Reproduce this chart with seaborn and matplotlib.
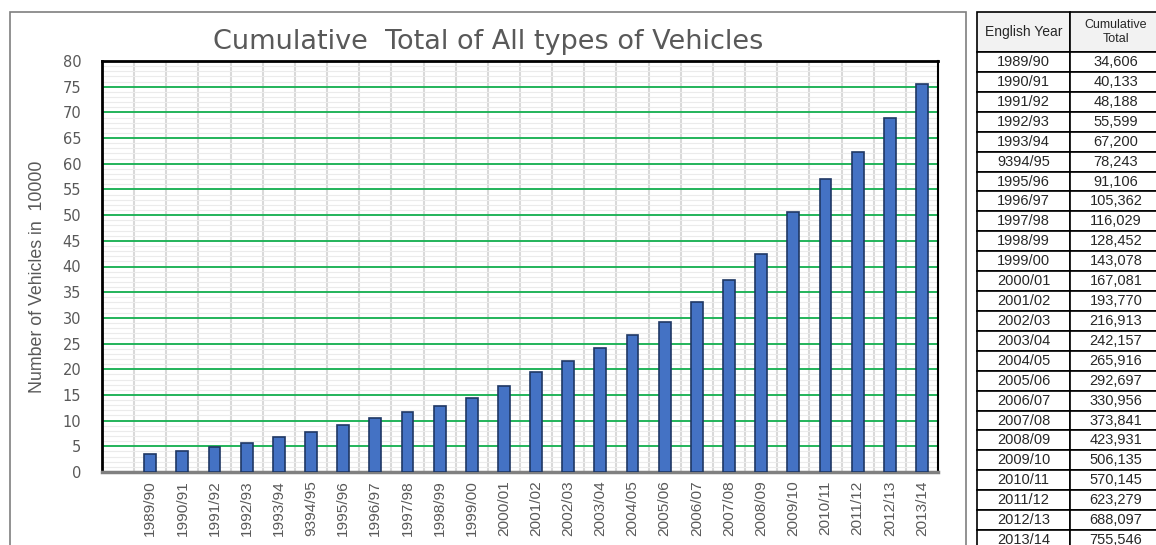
import matplotlib
matplotlib.use('Agg')
import matplotlib.pyplot as plt
from matplotlib import font_manager
import seaborn as sns
import numpy as np
import pandas as pd
from matplotlib.patches import Rectangle

years = ['1989/90', '1990/91', '1991/92', '1992/93', '1993/94', '9394/95', '1995/96',
         '1996/97', '1997/98', '1998/99', '1999/00', '2000/01', '2001/02', '2002/03',
         '2003/04', '2004/05', '2005/06', '2006/07', '2007/08', '2008/09', '2009/10',
         '2010/11', '2011/12', '2012/13', '2013/14']
totals = [34606, 40133, 48188, 55599, 67200, 78243, 91106, 105362, 116029, 128452,
          143078, 167081, 193770, 216913, 242157, 265916, 292697, 330956, 373841,
          423931, 506135, 570145, 623279, 688097, 755546]
title = "Cumulative  Total of All types of Vehicles"
ylabel = "Number of Vehicles in  10000"
table_headers = ["English Year", "Cumulative\nTotal"]
y_ticks = list(range(0, 81, 5))

sns.set_style('white')
plt.rcParams['font.family'] = ['Liberation Sans', 'DejaVu Sans']

installed = {f.name for f in font_manager.fontManager.ttflist}
narrow = 'Liberation Sans Narrow' if 'Liberation Sans Narrow' in installed else 'Liberation Sans'
narrow_scale = 1.0 if narrow == 'Liberation Sans Narrow' else 0.85

W, H = 1156, 545
fig = plt.figure(figsize=(W / 100, H / 100), dpi=100)


def fx(px):
    return px / W


def fy(py):
    return 1 - py / H


ax = fig.add_axes([fx(102), fy(472), fx(938) - fx(102), fy(61) - fy(472)])
df = pd.DataFrame({'year': years, 'value': np.array(totals) / 10000})
sns.barplot(data=df, x='year', y='value', order=years, color='#4472C4', width=0.37,
            edgecolor='#1F3864', linewidth=1.2, saturation=1, ax=ax, zorder=3)

ax.set_axisbelow(True)
ax.set_ylim(0, 80)
ax.set_xlim(-1.5, 24.5)
ax.set_yticks(y_ticks)
ax.set_yticks(np.arange(0, 81, 1), minor=True)
ax.set_xticks(np.arange(-0.5, 24.5, 1), minor=True)
ax.grid(which='minor', axis='y', color='#EBEBEB', lw=0.8)
ax.grid(which='major', axis='y', color='#22B35A', lw=1.4)
ax.grid(which='minor', axis='x', color='#D9D9D9', lw=1.5)
ax.grid(which='major', axis='x', visible=False)
ax.tick_params(which='both', length=0)
ax.tick_params(axis='y', labelsize=10.5, labelcolor='#595959', pad=15)
ax.tick_params(axis='x', labelcolor='#595959', pad=6)
ax.set_xticks(range(len(years)))
ax.set_xticklabels(years, rotation=90, va='top', ha='center',
                   fontsize=13 * narrow_scale, family=narrow)
for lab in ax.get_yticklabels():
    lab.set_family('DejaVu Sans')
ax.set_xlabel('')
ax.set_ylabel('')

for s in ['left', 'top']:
    ax.spines[s].set_color('black')
    ax.spines[s].set_linewidth(2)
ax.spines['right'].set_color('black')
ax.spines['right'].set_linewidth(1.5)
ax.spines['bottom'].set_color('#808080')
ax.spines['bottom'].set_linewidth(2.5)

fig.text(fx(488), fy(42), title, ha='center', va='center', fontsize=19.5,
         color='#595959', family='DejaVu Sans')
fig.text(fx(38), fy(277), ylabel, ha='center', va='center', rotation=90,
         fontsize=15 * narrow_scale, color='#595959', family=narrow)

fig.add_artist(Rectangle((fx(10), fy(560)), fx(966) - fx(10), fy(12) - fy(560),
                         fill=False, edgecolor='#7F7F7F', lw=1.2,
                         transform=fig.transFigure))

tax = fig.add_axes([fx(977), fy(550), fx(1162) - fx(977), fy(12) - fy(550)])
tax.axis('off')
cell_text = [[y, f"{v:,}"] for y, v in zip(years, totals)]
tbl = tax.table(cellText=cell_text, colLabels=table_headers, bbox=[0, 0, 1, 1],
                cellLoc='center', colWidths=[93, 92])
tbl.auto_set_font_size(False)
tbl.set_fontsize(10.5)
for (r, c), cell in tbl.get_celld().items():
    cell.set_linewidth(1.2)
    cell.set_edgecolor('black')
    if r == 0:
        cell.set_height(cell.get_height() * 40 / 19.9)
        cell.set_facecolor('#F2F2F2')
        cell.get_text().set_fontsize(10 if c == 0 else 9)
    elif c == 1:
        cell._loc = 'right'
        cell.PAD = 0.04

fig.savefig('out.png', dpi=100)
